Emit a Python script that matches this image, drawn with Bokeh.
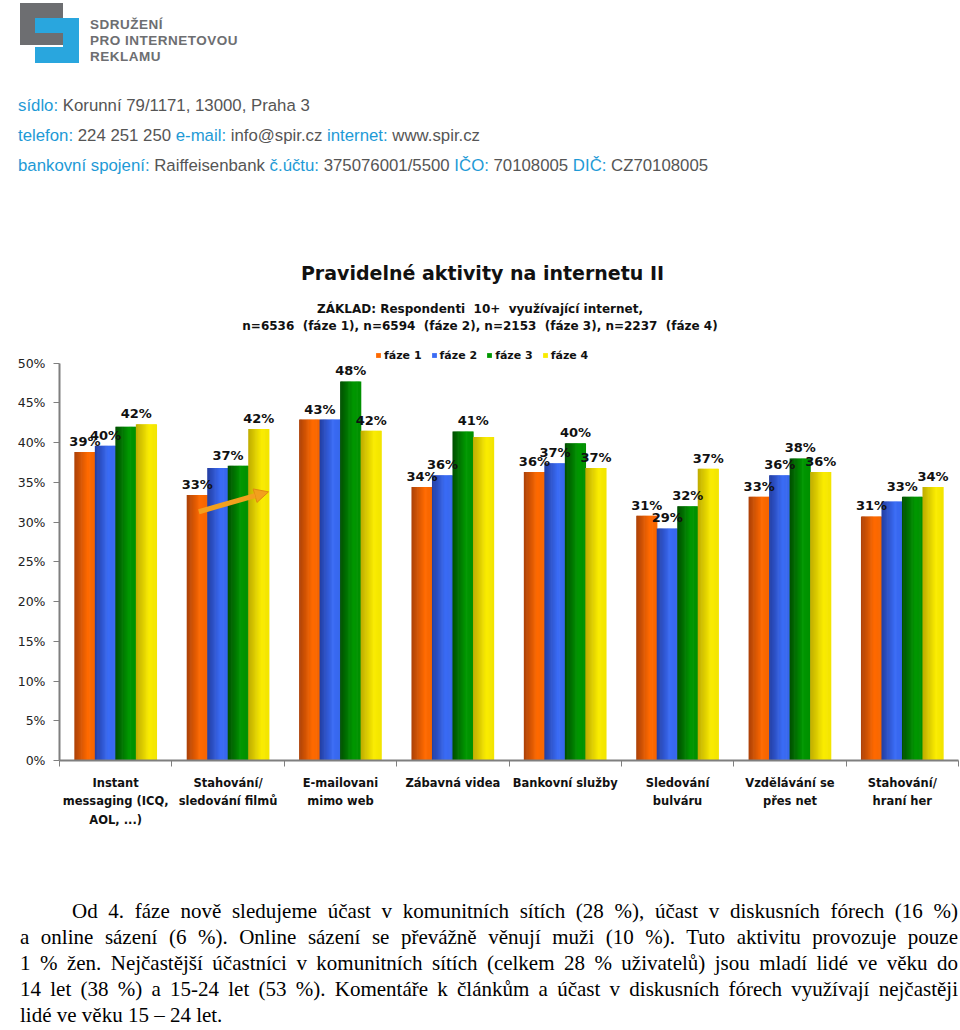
from bokeh.plotting import figure
from bokeh.models import (ColumnDataSource, FixedTicker, PrintfTickFormatter, Legend,
                          LegendItem, LabelSet, Arrow, NormalHead, Div, Range1d)
from bokeh.layouts import column
from bokeh.embed import file_html
from bokeh.resources import INLINE
from bokeh.core.properties import value

# ---------------- data ----------------
categories = ["Instant\nmessaging (ICQ,\nAOL, ...)", "Stahování/\nsledování filmů",
              "E-mailovani\nmimo web", "Zábavná videa", "Bankovní služby",
              "Sledování\nbulváru", "Vzdělávání se\npřes net", "Stahování/\nhraní her"]
series_names = ["fáze 1", "fáze 2", "fáze 3", "fáze 4"]
faze1 = [38.8, 33.4, 42.9, 34.4, 36.3, 30.8, 33.2, 30.7]
faze2 = [39.6, 36.8, 42.9, 35.9, 37.4, 29.2, 35.9, 32.6]
faze3 = [42.0, 37.1, 47.7, 41.4, 39.9, 32.0, 38.0, 33.2]
faze4 = [42.3, 41.7, 41.5, 40.7, 36.8, 36.7, 36.3, 34.4]
y_ticks = [0, 5, 10, 15, 20, 25, 30, 35, 40, 45, 50]

title_text = "Pravidelné aktivity na internetu II"
subtitle_lines = ["ZÁKLAD: Respondenti&nbsp; 10+&nbsp; využívající internet,",
                  "n=6536&nbsp; (fáze 1), n=6594&nbsp; (fáze 2), n=2153&nbsp; (fáze 3), n=2237&nbsp; (fáze 4)"]
paragraph_lines = [
    "Od 4. fáze nově sledujeme účast v komunitních sítích (28 %), účast v diskusních fórech (16 %)",
    "a online sázení (6 %). Online sázení se převážně věnují muži (10 %). Tuto aktivitu provozuje pouze",
    "1 % žen. Nejčastější účastníci v komunitních sítích (celkem 28 % uživatelů) jsou mladí lidé ve věku do",
    "14 let (38 %) a 15-24 let (53 %). Komentáře k článkům a účast v diskusních fórech využívají nejčastěji",
    "lidé ve věku 15 – 24 let.",
]
# arrow annotation (category 2 growth highlight), in data units
arrow_start = (1.24, 31.3)
arrow_end = (1.86, 33.8)

series = [faze1, faze2, faze3, faze4]
dark = [(150, 55, 10), (30, 50, 140), (0, 60, 0), (175, 155, 0)]
light = [(255, 106, 0), (58, 108, 245), (0, 152, 0), (250, 236, 0)]

N = len(categories)
GROUP = 0.73
BW = GROUP / 4
NS = 18

def profile(t):
    if t <= 0.65:
        return 0.2 + 0.8 * (t / 0.65)
    return 1.0 - 0.1 * (t - 0.65) / 0.35

def hexcol(c):
    return "#%02x%02x%02x" % tuple(int(round(v)) for v in c)

# ---------------- header + title (HTML) ----------------
def box(l, t, w, h, col):
    return f'<div style="position:absolute;left:{l}px;top:{t}px;width:{w}px;height:{h}px;background:{col}"></div>'

GREY = "#6d6e71"
BLUE = "#29a6de"
logo = "".join([
    box(20, 3, 43, 15, GREY), box(20, 3, 15, 42, GREY), box(20, 33, 43, 12, GREY),
    box(35, 18, 44, 15, BLUE), box(63, 18, 16, 45, BLUE), box(35, 47, 44, 16, BLUE),
])
org = (f'<div style="position:absolute;left:90px;top:17px;font:bold 13.5px \'Liberation Sans\';'
       f'letter-spacing:0.5px;line-height:16px;color:{GREY};white-space:nowrap">'
       f'SDRUŽENÍ<br>PRO INTERNETOVOU<br>REKLAMU</div>')

def lab(s):
    return f'<span style="color:#1e9ad6">{s}</span>'

info_lines = [
    lab("sídlo:") + " Korunní 79/1171, 13000, Praha 3",
    lab("telefon:") + " 224 251 250 " + lab("e-mail:") + " info@spir.cz " + lab("internet:") + " www.spir.cz",
    lab("bankovní spojení:") + " Raiffeisenbank " + lab("č.účtu:") + " 375076001/5500 " + lab("IČO:") + " 70108005 " + lab("DIČ:") + " CZ70108005",
]
info = "".join(
    f'<div style="position:absolute;left:18px;top:{t}px;font:16.8px \'Liberation Sans\';line-height:20px;color:#555;white-space:nowrap">{s}</div>'
    for s, t in zip(info_lines, [96, 126, 156]))
title_html = (f'<div style="position:absolute;left:0;top:261px;width:965px;text-align:center;'
              f'font:bold 19px \'DejaVu Sans\';line-height:24px;color:#111;white-space:nowrap">{title_text}</div>')
sub_html = "".join(
    f'<div style="position:absolute;left:0;top:{t}px;width:960px;text-align:center;'
    f'font:bold 12px \'DejaVu Sans\';line-height:15px;color:#111;white-space:nowrap">{s}</div>'
    for s, t in zip(subtitle_lines, [302, 319]))
header = Div(text=f'<div style="position:relative;width:960px;height:345px;overflow:hidden">'
                  f'{logo}{org}{info}{title_html}{sub_html}</div>',
             width=960, height=345, margin=0)

# ---------------- chart ----------------
PX_PER_PCT = 7.948
y_top = 50 + 17.6 / PX_PER_PCT
p = figure(width=960, height=525, x_range=Range1d(0, N), y_range=Range1d(0, y_top),
           toolbar_location=None, output_backend="svg", min_border=0,
           min_border_left=59, min_border_top=0, min_border_bottom=110, min_border_right=2)
p.grid.visible = False
p.outline_line_color = None

renderers = []
for j, vals in enumerate(series):
    xs, tops, cols = [], [], []
    for i, v in enumerate(vals):
        left = i + 0.5 - GROUP / 2 + j * BW
        for k in range(NS):
            t = (k + 0.5) / NS
            f = profile(t)
            c = tuple(dark[j][m] + (light[j][m] - dark[j][m]) * f for m in range(3))
            xs.append(left + (k + 0.5) * BW / NS)
            tops.append(v)
            cols.append(hexcol(c))
    src = ColumnDataSource(dict(x=xs, top=tops, color=cols))
    r = p.vbar(x="x", top="top", width=BW / NS * 1.6, bottom=0, fill_color="color",
               line_color=None, source=src)
    renderers.append(r)

# data labels (identical neighbouring labels coincide, as in the original)
lx, ly, lt = [], [], []
for i in range(N):
    prev = None
    for j, vals in enumerate(series):
        v = vals[i]
        txt = f"{int(v + 0.5)}%"
        xc = i + 0.5 - GROUP / 2 + (j + 0.5) * BW
        if prev is not None and lt[-1] == txt and prev == j - 1:
            lx[-1] = (lx[-1] + xc) / 2
            ly[-1] = max(ly[-1], v)
        else:
            lx.append(xc); ly.append(v); lt.append(txt)
        prev = j
lsrc = ColumnDataSource(dict(x=lx, y=ly, t=lt))
p.add_layout(LabelSet(x="x", y="y", text="t", source=lsrc, y_offset=3,
                      text_align="center", text_baseline="bottom",
                      text_font=value("DejaVu Sans"), text_font_style="bold",
                      text_font_size="13px", text_color="#111111"))

p.add_layout(Arrow(end=NormalHead(size=14, fill_color="#f2a01d", line_color="#e08a10"),
                   x_start=arrow_start[0], y_start=arrow_start[1],
                   x_end=arrow_end[0], y_end=arrow_end[1],
                   line_color="#f2a01d", line_width=5))

# axes
p.yaxis.ticker = FixedTicker(ticks=y_ticks)
p.yaxis.bounds = (0, 50)
p.yaxis.formatter = PrintfTickFormatter(format="%d%%")
p.yaxis.axis_line_color = "#7f7f7f"
p.yaxis.axis_line_width = 2
p.yaxis.major_tick_line_color = "#7f7f7f"
p.yaxis.major_tick_out = 6
p.yaxis.major_tick_in = 0
p.yaxis.minor_tick_line_color = None
p.yaxis.major_label_text_font = "DejaVu Sans"
p.yaxis.major_label_text_font_size = "12.5px"
p.yaxis.major_label_text_color = "#222222"
p.yaxis.major_label_standoff = 8

centers = [i + 0.5 for i in range(N)]
p.xaxis.ticker = FixedTicker(ticks=centers, minor_ticks=list(range(N + 1)))
p.xaxis.major_label_overrides = {c: lbl for c, lbl in zip(centers, categories)}
p.xaxis.axis_line_color = "#7f7f7f"
p.xaxis.axis_line_width = 2
p.xaxis.major_tick_line_color = None
p.xaxis.major_tick_out = 0
p.xaxis.major_tick_in = 0
p.xaxis.minor_tick_line_color = "#7f7f7f"
p.xaxis.minor_tick_out = 6
p.xaxis.minor_tick_in = 0
p.xaxis.major_label_text_font = "DejaVu Sans"
p.xaxis.major_label_text_font_style = "bold"
p.xaxis.major_label_text_font_size = "11.5px"
p.xaxis.major_label_text_color = "#111111"
p.xaxis.major_label_text_line_height = 1.35
p.xaxis.major_label_standoff = 9

bright_idx = int(NS * 0.65)
legend = Legend(items=[LegendItem(label=n, renderers=[r], index=bright_idx)
                       for n, r in zip(series_names, renderers)],
                orientation="horizontal", location=(316, 398),
                border_line_alpha=0, background_fill_alpha=0, padding=0, margin=0,
                spacing=9, glyph_width=6, glyph_height=6, label_standoff=3,
                label_text_font="DejaVu Sans", label_text_font_style="bold",
                label_text_font_size="11px", label_text_color="#111111",
                label_height=14)
p.add_layout(legend)

# ---------------- paragraph (HTML) ----------------
par_html = "".join(
    f'<div style="text-align:justify;text-align-last:{"justify" if i < len(paragraph_lines) - 1 else "left"};'
    f'{"text-indent:52px;" if i == 0 else ""}white-space:nowrap;">{s}</div>'
    for i, s in enumerate(paragraph_lines))
para = Div(text=f'<div style="box-sizing:border-box;width:958px;padding-left:20px;padding-top:28px;height:160px;overflow:hidden;'
                f'font-family:\'Liberation Serif\';font-size:21px;line-height:26px;color:#000">{par_html}</div>',
           width=960, height=160, margin=0)

layout = column(header, p, para, spacing=0)
open("out.html", "w").write(file_html(layout, INLINE))
